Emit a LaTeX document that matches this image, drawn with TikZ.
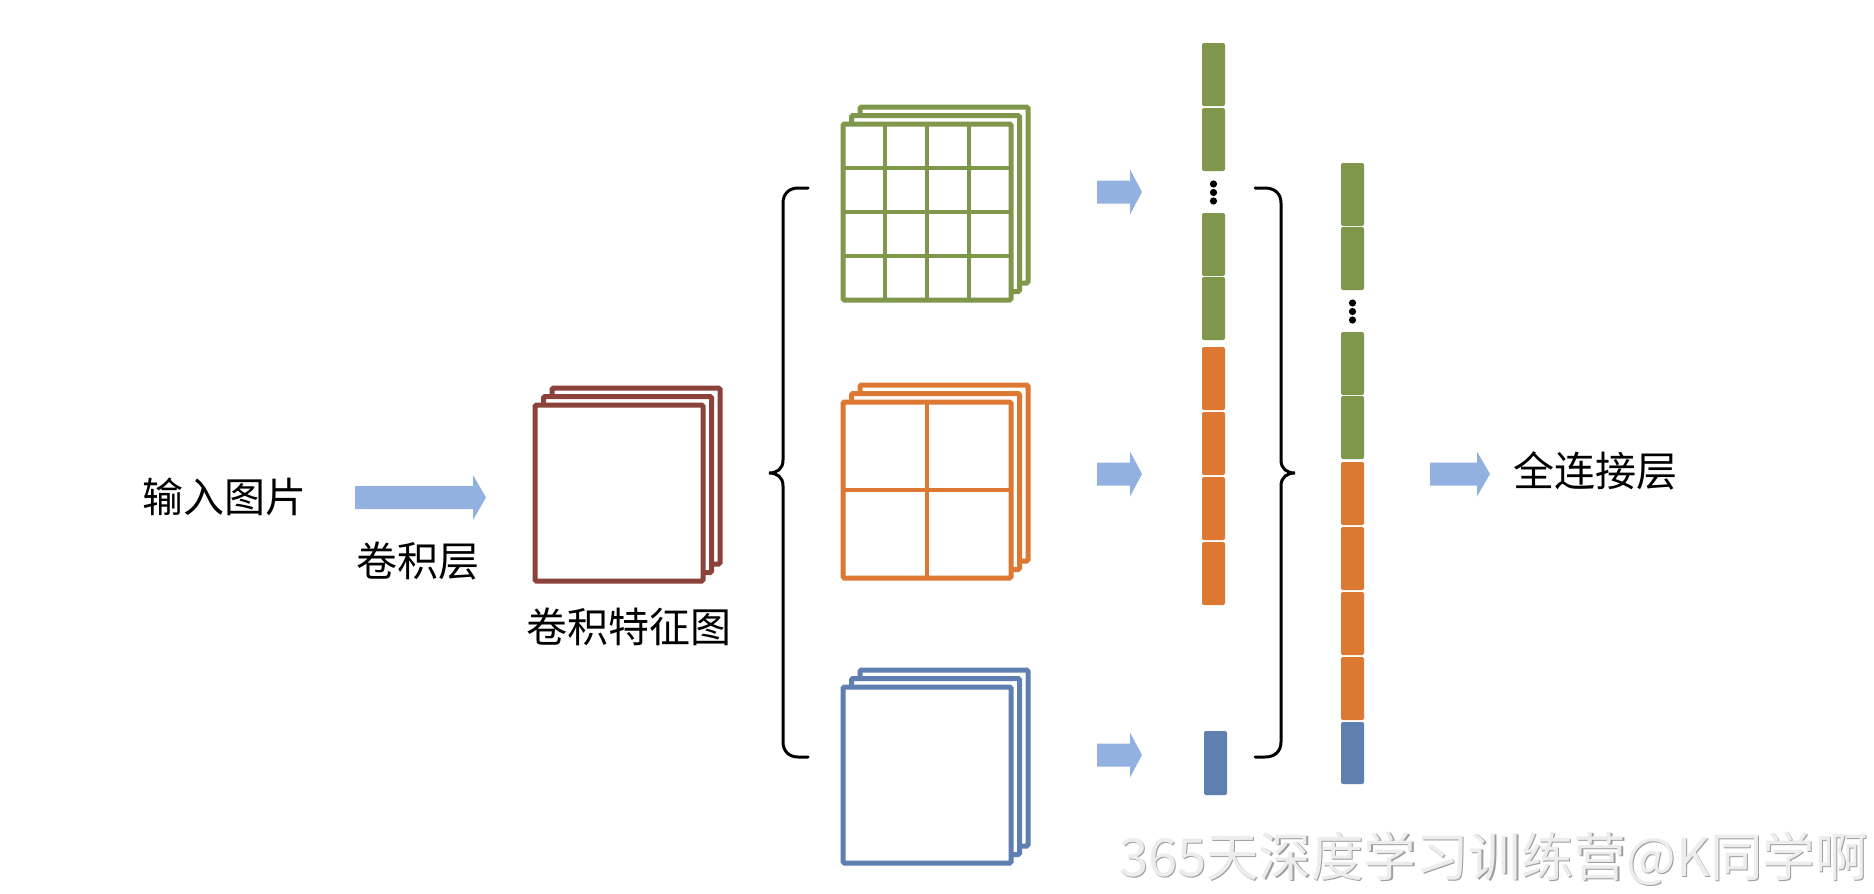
\documentclass[tikz,border=0pt]{standalone}
\usepackage{fontspec}
\newfontfamily\cjk{Noto Sans CJK SC}
\definecolor{cgreen}{RGB}{126,151,74}
\definecolor{corange}{RGB}{221,120,50}
\definecolor{cblue}{RGB}{95,127,176}
\definecolor{cbrown}{RGB}{139,66,58}
\definecolor{carrow}{RGB}{147,177,224}
\tikzset{
  layer/.style={fill=white, line width=5pt, rounded corners=1.5pt},
  gridln/.style={line width=4.8pt},
  vblock/.style={rounded corners=2pt},
  barrow/.style={fill=carrow},
  brace/.style={line width=3pt, line cap=round},
  cnlabel/.style={font=\cjk\fontsize{41}{48}\selectfont, inner sep=0pt},
}
\newcommand\fmstack[3]{%
  \draw[layer,draw=#3] (#1+17,#2-17) rectangle ++(168,176);
  \draw[layer,draw=#3] (#1+8.5,#2-8.5) rectangle ++(168,176);
  \draw[layer,draw=#3] (#1,#2) rectangle ++(168,176);
}
\newcommand\blkarrow[4]{%
  \fill[barrow] (#1,#4-11.5) -- (#2,#4-11.5) -- (#2,#4-22.5) -- (#3,#4) -- (#2,#4+22.5) -- (#2,#4+11.5) -- (#1,#4+11.5) -- cycle;
}
\begin{document}
\begin{tikzpicture}[x=1pt,y=-1pt]
\useasboundingbox (0,0) rectangle (1874,894);
\fill[white] (0,0) rectangle (1874,894);

% labels
\node[cnlabel] (inp) at (224,497) {输入图片};
\node[cnlabel] (conv) at (418,561) {卷积层};
\node[cnlabel] (fmap) at (629,627) {卷积特征图};
\node[cnlabel] (fc) at (1595,471) {全连接层};

% arrows
\blkarrow{355}{473}{486}{497.5}
\blkarrow{1097}{1130}{1142}{192}
\blkarrow{1097}{1130}{1142}{474}
\blkarrow{1097}{1130}{1142}{755}
\blkarrow{1430}{1477}{1490}{474}

% feature map stacks
\fmstack{535}{405}{cbrown}
\fmstack{843}{124}{cgreen}
\foreach \k in {1,2,3}{
  \draw[gridln,cgreen] (843+42*\k,124) -- (843+42*\k,300);
  \draw[gridln,cgreen] (843,124+44*\k) -- (1011,124+44*\k);
}
\fmstack{843}{402}{corange}
\draw[gridln,corange] (927,402) -- (927,578);
\draw[gridln,corange] (843,490) -- (1011,490);
\fmstack{843}{687}{cblue}

% braces
\draw[brace] (808,188) -- (798,188) .. controls (789,188) and (783,194) .. (783,203)
  -- (783,460) .. controls (783,469) and (777,473) .. (769,473)
  .. controls (777,473) and (783,477) .. (783,486)
  -- (783,742) .. controls (783,751) and (789,757) .. (798,757) -- (808,757);
\draw[brace] (1255,188) -- (1265,188) .. controls (1275,188) and (1281,194) .. (1281,203)
  -- (1281,460) .. controls (1281,469) and (1287,473) .. (1295,473)
  .. controls (1287,473) and (1281,477) .. (1281,486)
  -- (1281,742) .. controls (1281,751) and (1275,757) .. (1265,757) -- (1255,757);

% vectors
\foreach \t in {43,108,213,277}{\fill[vblock,cgreen] (1202,\t) rectangle ++(23,63);}
\foreach \t in {347,412,477,542}{\fill[vblock,corange] (1202,\t) rectangle ++(23,63);}
\fill[vblock,cblue] (1204,731) rectangle ++(23,64);
\foreach \y in {184,192.5,201}{\fill (1213.5,\y) circle (3.6);}

\foreach \t in {163,227,332,396}{\fill[vblock,cgreen] (1341,\t) rectangle ++(23,63);}
\foreach \t in {462,527,592,657}{\fill[vblock,corange] (1341,\t) rectangle ++(23,63);}
\fill[vblock,cblue] (1341,722) rectangle ++(23,62);
\foreach \y in {303,311.5,320}{\fill (1352.5,\y) circle (3.6);}

% watermark
\node[font=\cjk\fontsize{52.5}{60}\selectfont, text=black!38, inner sep=0pt] (wms) at (1494.5,859.5) {365天深度学习训练营@K同学啊};
\node[font=\cjk\fontsize{52.5}{60}\selectfont, text=black!7, inner sep=0pt] (wm) at (1493.3,858.3) {365天深度学习训练营@K同学啊};
\end{tikzpicture}
\end{document}
